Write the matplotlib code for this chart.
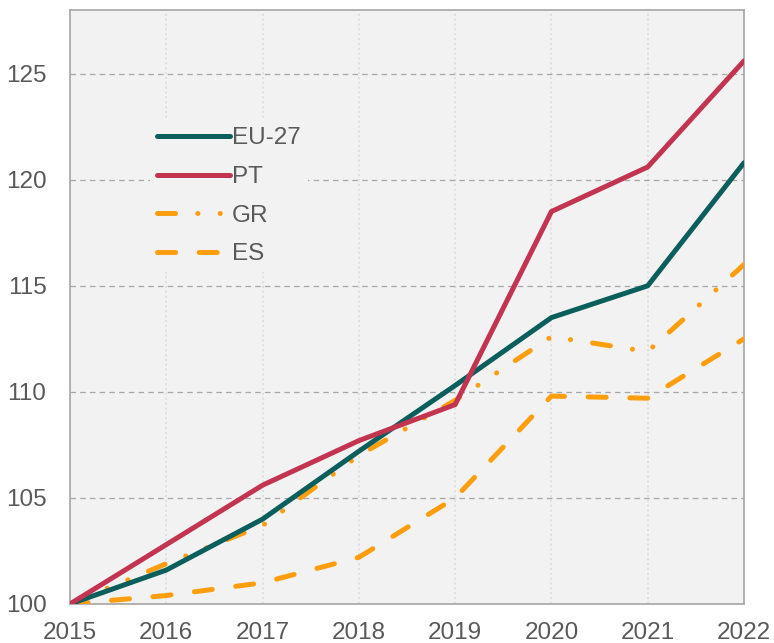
import matplotlib
matplotlib.use("Agg")
import matplotlib.pyplot as plt

years = [2015, 2016, 2017, 2018, 2019, 2020, 2021, 2022]
eu27 = [100, 101.6, 104.0, 107.2, 110.3, 113.5, 115.0, 120.8]
pt = [100, 102.8, 105.6, 107.7, 109.4, 118.5, 120.6, 125.6]
gr = [100, 101.9, 103.7, 107.0, 109.6, 112.6, 111.9, 116.0]
es = [100, 100.4, 101.0, 102.2, 105.0, 109.8, 109.7, 112.5]
yticks = [100, 105, 110, 115, 120, 125]

plt.rcParams['font.family'] = ['Liberation Sans', 'DejaVu Sans']
plt.rcParams['lines.scale_dashes'] = False

fig = plt.figure(figsize=(7.74, 6.43), dpi=100)
ax = fig.add_axes([70/774, 1-604/643, 674/774, 594/643])
ax.set_facecolor('#f2f2f2')

lw = 3.6
orange = '#ff9e0d'
ax.plot(years, eu27, color='#0a5e5c', lw=lw, solid_capstyle='round', label='EU-27', zorder=4)
ax.plot(years, pt, color='#c2344f', lw=lw, solid_capstyle='round', label='PT', zorder=5)
ax.plot(years, gr, color=orange, lw=lw, dash_capstyle='round',
        linestyle=(0, (13, 16, 0.1, 16, 0.1, 16)), label='GR', zorder=3)
ax.plot(years, es, color=orange, lw=lw, dash_capstyle='round',
        linestyle=(0, (13, 17)), label='ES', zorder=3)

ax.set_xlim(2015, 2022)
ax.set_ylim(100, 128)
ax.set_xticks(years)
ax.set_yticks(yticks)
ax.tick_params(axis='both', length=0, labelsize=17.5, colors='#595959')
ax.tick_params(axis='y', pad=17)
ax.tick_params(axis='x', pad=13)

ax.grid(axis='y', color='#a6a6a6', linestyle=(0, (4, 3)), lw=0.9, zorder=1)
ax.grid(axis='x', color='#dcdcdc', linestyle=(0, (1.5, 2)), lw=1.2, zorder=1)
ax.set_axisbelow(True)
for s in ax.spines.values():
    s.set_color('#a6a6a6')
    s.set_linewidth(1.2)

leg = ax.legend(loc='upper left', bbox_to_anchor=(0.1, 0.835), frameon=True,
                facecolor='#f2f2f2', edgecolor='none', framealpha=1,
                fontsize=17.5, handlelength=3.0, handletextpad=0.1,
                labelspacing=0.68, borderpad=0.3)
for t in leg.get_texts():
    t.set_color('#595959')

fig.savefig('out.png', dpi=100)
